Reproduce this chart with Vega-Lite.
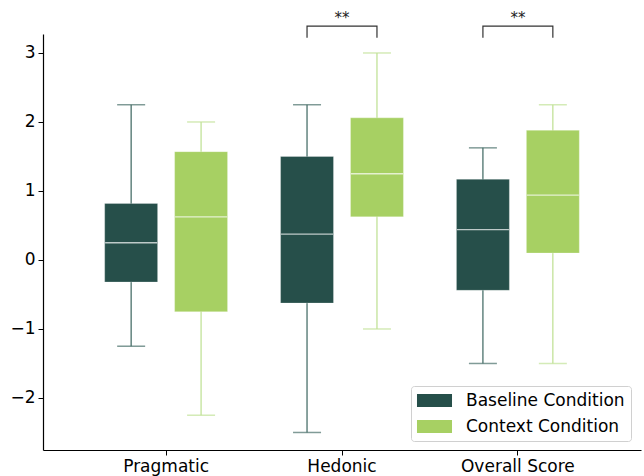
{
  "$schema": "https://vega.github.io/schema/vega-lite/v6.json",
  "width": 598,
  "height": 416,
  "autosize": {"type": "none"},
  "padding": {"left": 43, "top": 34, "right": 3, "bottom": 26},
  "config": {
    "view": {"stroke": null},
    "font": "DejaVu Sans",
    "axis": {"labelFont": "DejaVu Sans", "labelFontSize": 17, "labelColor": "#000", "domainColor": "#000", "tickColor": "#000", "grid": false, "tickSize": 5, "domainWidth": 1.2, "tickWidth": 1}
  },
  "datasets": {
    "box": [
      {"category": "Pragmatic", "condition": "Baseline Condition", "lower": -1.25, "q1": -0.32, "median": 0.25, "q3": 0.82, "upper": 2.25},
      {"category": "Pragmatic", "condition": "Context Condition", "lower": -2.25, "q1": -0.75, "median": 0.625, "q3": 1.57, "upper": 2.0},
      {"category": "Hedonic", "condition": "Baseline Condition", "lower": -2.5, "q1": -0.625, "median": 0.375, "q3": 1.5, "upper": 2.25},
      {"category": "Hedonic", "condition": "Context Condition", "lower": -1.0, "q1": 0.625, "median": 1.25, "q3": 2.06, "upper": 3.0},
      {"category": "Overall Score", "condition": "Baseline Condition", "lower": -1.5, "q1": -0.44, "median": 0.44, "q3": 1.17, "upper": 1.625},
      {"category": "Overall Score", "condition": "Context Condition", "lower": -1.5, "q1": 0.1, "median": 0.94, "q3": 1.88, "upper": 2.25}
    ],
    "bracket": [
      {"category": "Hedonic", "condition": "Baseline Condition", "y": 3.22, "step": 1},
      {"category": "Hedonic", "condition": "Baseline Condition", "y": 3.39, "step": 2},
      {"category": "Hedonic", "condition": "Context Condition", "y": 3.39, "step": 3},
      {"category": "Hedonic", "condition": "Context Condition", "y": 3.22, "step": 4},
      {"category": "Overall Score", "condition": "Baseline Condition", "y": 3.22, "step": 1},
      {"category": "Overall Score", "condition": "Baseline Condition", "y": 3.39, "step": 2},
      {"category": "Overall Score", "condition": "Context Condition", "y": 3.39, "step": 3},
      {"category": "Overall Score", "condition": "Context Condition", "y": 3.22, "step": 4}
    ],
    "stars": [
      {"category": "Hedonic", "y": 3.5, "label": "**"},
      {"category": "Overall Score", "y": 3.5, "label": "**"}
    ]
  },
  "encoding": {
    "x": {"field": "category", "type": "nominal", "sort": ["Pragmatic", "Hedonic", "Overall Score"],
      "scale": {"domain": ["Pragmatic", "Hedonic", "Overall Score"], "paddingInner": 0, "paddingOuter": 0.2},
      "axis": {"title": null, "labelAngle": 0, "labelPadding": 3}}
  },
  "layer": [
    {
      "data": {"name": "box"},
      "mark": {"type": "rule", "strokeWidth": 1.3},
      "encoding": {
        "xOffset": {"field": "condition", "type": "nominal", "scale": {"domain": ["Baseline Condition", "Context Condition"], "paddingInner": 0.243, "paddingOuter": 0.379}},
        "y": {"field": "lower", "type": "quantitative", "scale": {"domain": [-2.754, 3.275], "nice": false, "zero": false},
          "axis": {"title": null, "values": [-2, -1, 0, 1, 2, 3], "format": "d", "labelPadding": 3}},
        "y2": {"field": "upper"},
        "color": {"field": "condition", "type": "nominal", "scale": {"domain": ["Baseline Condition", "Context Condition"], "range": ["#4a716b", "#c2e298"]}, "legend": null}
      }
    },
    {
      "data": {"name": "box"},
      "mark": {"type": "tick", "size": 28, "thickness": 1.5},
      "encoding": {
        "xOffset": {"field": "condition", "type": "nominal"},
        "y": {"field": "lower", "type": "quantitative"},
        "color": {"field": "condition", "type": "nominal", "legend": null}
      }
    },
    {
      "data": {"name": "box"},
      "mark": {"type": "tick", "size": 28, "thickness": 1.5},
      "encoding": {
        "xOffset": {"field": "condition", "type": "nominal"},
        "y": {"field": "upper", "type": "quantitative"},
        "color": {"field": "condition", "type": "nominal", "legend": null}
      }
    },
    {
      "data": {"name": "box"},
      "mark": {"type": "bar", "stroke": "#ffffff", "strokeOpacity": 0.35, "strokeWidth": 0.8},
      "encoding": {
        "xOffset": {"field": "condition", "type": "nominal"},
        "y": {"field": "q1", "type": "quantitative"},
        "y2": {"field": "q3"},
        "fill": {"field": "condition", "type": "nominal",
          "scale": {"domain": ["Baseline Condition", "Context Condition"], "range": ["#264f4a", "#a7d063"]},
          "legend": {"title": null, "orient": "none", "legendX": 368, "legendY": 352, "labelFontSize": 17, "labelFont": "DejaVu Sans", "labelColor": "#000",
            "symbolType": "M-2.06,-0.765H2.06V0.765H-2.06Z", "symbolSize": 289, "symbolStrokeWidth": 0, "symbolOffset": 9, "rowPadding": 8, "labelOffset": 23,
            "fillColor": "#ffffff", "strokeColor": "#d0d0d0", "padding": 6, "cornerRadius": 3}}
      }
    },
    {
      "data": {"name": "box"},
      "mark": {"type": "tick", "color": "#ffffff", "size": 52, "thickness": 1.4},
      "encoding": {
        "xOffset": {"field": "condition", "type": "nominal"},
        "y": {"field": "median", "type": "quantitative"}
      }
    },
    {
      "data": {"name": "bracket"},
      "mark": {"type": "line", "color": "#333333", "strokeWidth": 1.2, "clip": false},
      "encoding": {
        "xOffset": {"field": "condition", "type": "nominal"},
        "y": {"field": "y", "type": "quantitative"},
        "detail": {"field": "category"},
        "order": {"field": "step", "type": "quantitative"}
      }
    },
    {
      "data": {"name": "stars"},
      "mark": {"type": "text", "fontSize": 15, "color": "#222222", "baseline": "middle"},
      "encoding": {
        "y": {"field": "y", "type": "quantitative"},
        "text": {"field": "label"}
      }
    }
  ],
  "resolve": {"legend": {"color": "independent", "fill": "independent"}}
}
